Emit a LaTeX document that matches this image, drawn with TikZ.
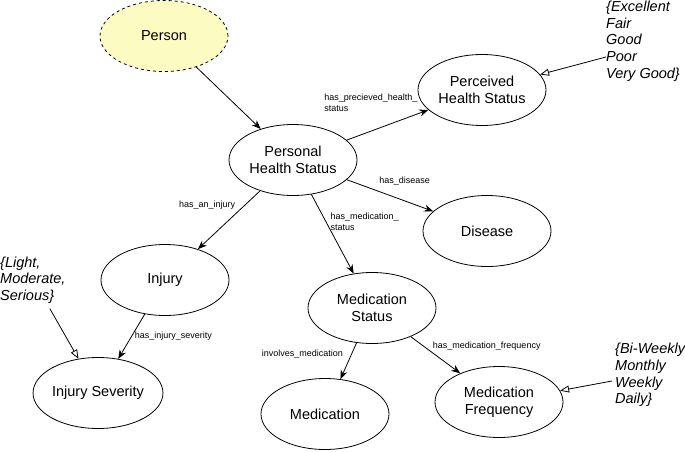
\documentclass[tikz,border=0pt]{standalone}
\usepackage{fontspec}
\setmainfont{Liberation Sans}
\usetikzlibrary{shapes.geometric,arrows.meta}
\definecolor{personyellow}{RGB}{252,252,194}

\begin{document}
\begin{tikzpicture}[x=1pt,y=-1pt]
        \tikzset{concept/.style={ellipse, draw, line width=0.8pt, minimum width=128pt, minimum height=71pt, inner sep=0pt, align=center, font=\fontsize{14.5}{16.5}\selectfont}}
        \tikzset{rel/.style={-{Stealth[length=9pt,width=7pt]}, line width=0.8pt}}
        \tikzset{valuerel/.style={-{Triangle[open,length=9pt,width=7pt]}, line width=0.8pt}}
        \tikzset{lbl/.style={inner sep=0pt, align=left, font=\fontsize{9}{11}\selectfont}}
        \tikzset{values/.style={inner sep=0pt, align=left, anchor=west, font=\fontsize{14.5}{16.7}\selectfont\itshape}}
        \useasboundingbox (0,0) rectangle (685,452);
        \node[concept, dashed, fill=personyellow] (person) at (164,36) {Person};
        \node[concept] (phs) at (293,160) {Personal\\Health Status};
        \node[concept] (perceived) at (482,90) {Perceived\\Health Status};
        \node[concept] (disease) at (487,231) {Disease};
        \node[concept] (injury) at (165,280) {Injury};
        \node[concept] (severity) at (98,393) {Injury Severity};
        \node[concept] (medstatus) at (372,308) {Medication\\Status};
        \node[concept] (medication) at (325,414) {Medication};
        \node[concept] (frequency) at (499,402) {Medication\\Frequency};
        \node[values] (healthvalues) at (606,41) {\{Excellent\\Fair\\Good\\Poor\\Very Good\}};
        \node[values] (severityvalues) at (0,280) {\{Light,\\Moderate,\\Serious\}};
        \node[values] (frequencyvalues) at (615,375) {\{Bi-Weekly\\Monthly\\Weekly\\Daily\}};
        \draw[rel] (person) -- (phs);
        \draw[rel] (phs) -- (perceived) node[lbl, pos=.87, anchor=south east, yshift=2pt] {has\_precieved\_health\_\\status};
        \draw[rel] (phs) -- (disease) node[lbl, pos=.67, anchor=south, yshift=15pt] {has\_disease};
        \draw[rel] (phs) -- (injury) node[lbl, pos=.25, anchor=east, xshift=-9pt] {has\_an\_injury};
        \draw[rel] (phs) -- (medstatus) node[lbl, pos=.35, anchor=west, xshift=4pt] {has\_medication\_\\status};
        \draw[rel] (injury) -- (severity) node[lbl, pos=.5, anchor=west, xshift=3pt] {has\_injury\_severity};
        \draw[rel] (medstatus) -- (medication) node[lbl, pos=.32, anchor=east, xshift=-8pt] {involves\_medication};
        \draw[rel] (medstatus) -- (frequency) node[lbl, pos=.4, anchor=south west, xshift=2pt, yshift=1pt] {has\_medication\_frequency};
        \draw[valuerel] ([yshift=-16pt]healthvalues.west) -- (perceived);
        \draw[valuerel] ([xshift=17pt,yshift=-5pt]severityvalues.south) -- (severity);
        \draw[valuerel] ([xshift=-3pt,yshift=-6pt]frequencyvalues.west) -- (frequency);
    \end{tikzpicture}
\end{document}
